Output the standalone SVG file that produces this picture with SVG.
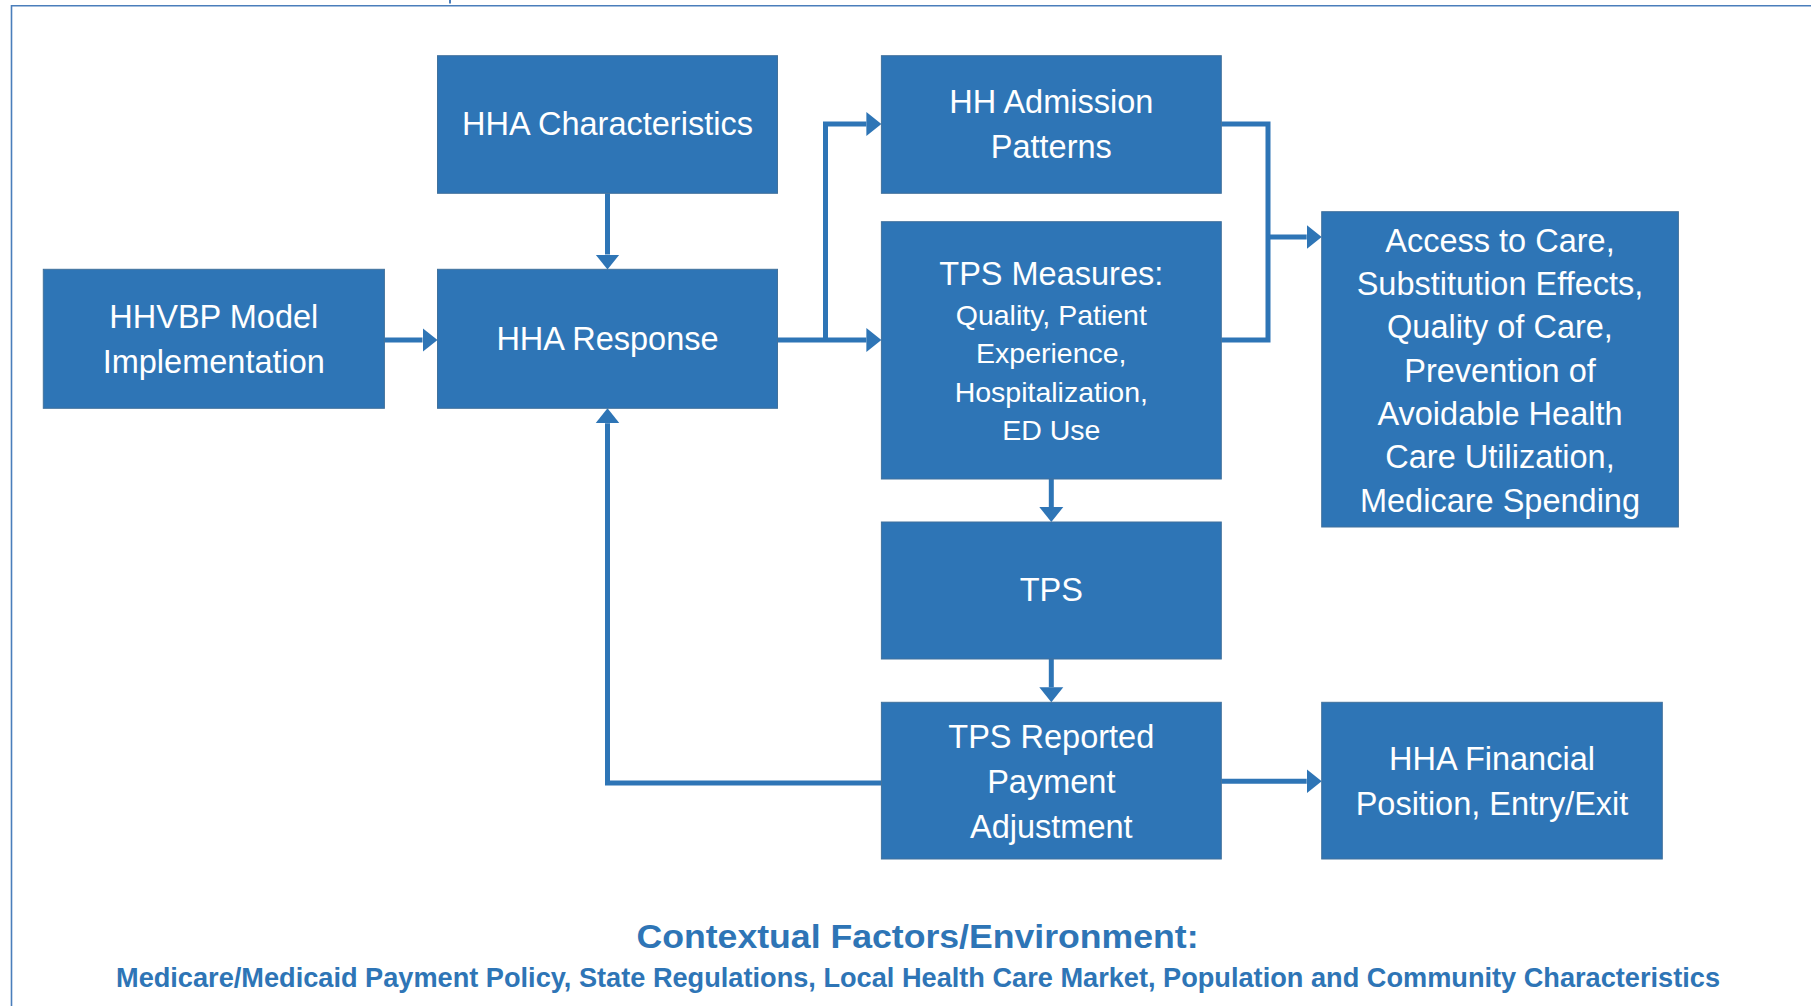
<svg xmlns="http://www.w3.org/2000/svg" width="1811" height="1006" viewBox="0 0 1811 1006">
<style>
.box{fill:#2E75B6;stroke:#41719C;stroke-width:1}
.t{font-family:"Liberation Sans",Arial,sans-serif;font-size:32.5px;fill:#ffffff;text-anchor:middle}
.s{font-size:28.5px}
.c{fill:none;stroke:#2E75B6;stroke-width:5;marker-end:url(#ah)}
.ctx{font-family:"Liberation Sans",Arial,sans-serif;font-weight:bold;fill:#2E75B6;text-anchor:middle}
</style>
<defs>
<marker id="ah" markerUnits="userSpaceOnUse" markerWidth="16" markerHeight="26" viewBox="0 -13 16 26" refX="0" refY="0" orient="auto">
<path d="M0,-12 L15,0 L0,12 Z" fill="#2E75B6"/>
</marker>
</defs>
<rect width="1811" height="1006" fill="#ffffff"/>
<path d="M11.5,1006 V5.7 H1811" fill="none" stroke="#4A7EBB" stroke-width="1.6"/>
<line x1="450" y1="0" x2="450" y2="3.5" stroke="#4A7EBB" stroke-width="2"/>

<g id="connectors">
<path class="c" d="M607.5,193.3 V254.5"/>
<path class="c" d="M384.4,340 H422.5"/>
<path class="c" d="M777.5,340 H866.4"/>
<path class="c" d="M825.5,340 V124 H866.4"/>
<path fill="none" stroke="#2E75B6" stroke-width="5" d="M1221.3,124 H1268 V340 H1221.3"/>
<path class="c" d="M1268,237 H1306.7"/>
<path class="c" d="M1051.3,479 V507"/>
<path class="c" d="M1051.3,659 V687.3"/>
<path class="c" d="M1221.3,781.3 H1306.7"/>
<path class="c" d="M881.4,783 H607.5 V423.3"/>
</g>

<g id="hha-characteristics">
<rect class="box" x="437.5" y="55.7" width="340" height="137.6"/>
<text class="t" x="607.5" y="135">HHA Characteristics</text>
</g>
<g id="hhvbp">
<rect class="box" x="43.3" y="269.3" width="341.1" height="139"/>
<text class="t" x="213.8" y="328.3">HHVBP Model</text>
<text class="t" x="213.8" y="373.3">Implementation</text>
</g>
<g id="hha-response">
<rect class="box" x="437.5" y="269.3" width="340" height="139"/>
<text class="t" x="607.5" y="350">HHA Response</text>
</g>
<g id="hh-admission">
<rect class="box" x="881.4" y="55.7" width="339.9" height="137.6"/>
<text class="t" x="1051.3" y="113.3">HH Admission</text>
<text class="t" x="1051.3" y="158.3">Patterns</text>
</g>
<g id="tps-measures">
<rect class="box" x="881.4" y="221.7" width="339.9" height="257.3"/>
<text class="t" x="1051.3" y="285">TPS Measures:</text>
<text class="t s" x="1051.3" y="325">Quality, Patient</text>
<text class="t s" x="1051.3" y="363.3">Experience,</text>
<text class="t s" x="1051.3" y="401.7">Hospitalization,</text>
<text class="t s" x="1051.3" y="440">ED Use</text>
</g>
<g id="access">
<rect class="box" x="1321.7" y="211.7" width="356.7" height="315.3"/>
<text class="t" x="1500" y="251.7">Access to Care,</text>
<text class="t" x="1500" y="295">Substitution Effects,</text>
<text class="t" x="1500" y="338.3">Quality of Care,</text>
<text class="t" x="1500" y="381.7">Prevention of</text>
<text class="t" x="1500" y="425">Avoidable Health</text>
<text class="t" x="1500" y="468.3">Care Utilization,</text>
<text class="t" x="1500" y="511.6">Medicare Spending</text>
</g>
<g id="tps">
<rect class="box" x="881.4" y="522" width="339.9" height="137"/>
<text class="t" x="1051.3" y="601.3">TPS</text>
</g>
<g id="tps-adjustment">
<rect class="box" x="881.4" y="702.3" width="339.9" height="156.7"/>
<text class="t" x="1051.3" y="748">TPS Reported</text>
<text class="t" x="1051.3" y="793">Payment</text>
<text class="t" x="1051.3" y="838">Adjustment</text>
</g>
<g id="hha-financial">
<rect class="box" x="1321.7" y="702.3" width="340.6" height="156.7"/>
<text class="t" x="1492" y="769.7">HHA Financial</text>
<text class="t" x="1492" y="814.7">Position, Entry/Exit</text>
</g>

<g id="context">
<text class="ctx" x="917.5" y="948" font-size="33.5" textLength="562" lengthAdjust="spacingAndGlyphs">Contextual Factors/Environment:</text>
<text class="ctx" x="918" y="987" font-size="28.5" textLength="1604" lengthAdjust="spacingAndGlyphs">Medicare/Medicaid Payment Policy, State Regulations, Local Health Care Market, Population and Community Characteristics</text>
</g>
</svg>
